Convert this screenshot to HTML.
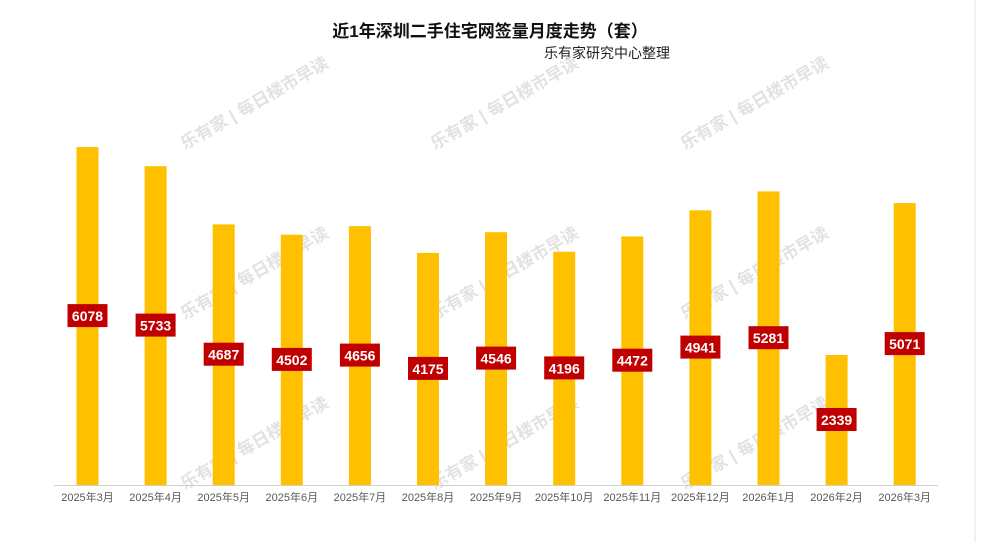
<!DOCTYPE html><html><head><meta charset="utf-8"><style>body{margin:0;background:#fff}</style></head><body>
<svg width="981" height="542" xmlns="http://www.w3.org/2000/svg" style="display:block;font-family:'Liberation Sans','Noto Sans CJK SC',sans-serif">
<rect width="981" height="542" fill="#fff"/>
<line x1="975" y1="0" x2="975" y2="542" stroke="#e4e4e4"/>
<text x="490" y="37" text-anchor="middle" font-size="17" font-weight="bold" fill="#111">近1年深圳二手住宅网签量月度走势（套）</text>
<text x="607" y="58" text-anchor="middle" font-size="14" fill="#222">乐有家研究中心整理</text>
<g fill="#e2e2e2" font-size="17" font-weight="bold">
<text transform="translate(185,150) rotate(-30)">乐有家 | 每日楼市早读</text>
<text transform="translate(435,150) rotate(-30)">乐有家 | 每日楼市早读</text>
<text transform="translate(685,150) rotate(-30)">乐有家 | 每日楼市早读</text>
<text transform="translate(185,320) rotate(-30)">乐有家 | 每日楼市早读</text>
<text transform="translate(435,320) rotate(-30)">乐有家 | 每日楼市早读</text>
<text transform="translate(685,320) rotate(-30)">乐有家 | 每日楼市早读</text>
<text transform="translate(185,490) rotate(-30)">乐有家 | 每日楼市早读</text>
<text transform="translate(435,490) rotate(-30)">乐有家 | 每日楼市早读</text>
<text transform="translate(685,490) rotate(-30)">乐有家 | 每日楼市早读</text>
</g>
<line x1="54" y1="485.5" x2="938" y2="485.5" stroke="#d0d0d0"/>
<g fill="#FFC000">
<rect x="76.5" y="147.1" width="22" height="337.9"/>
<rect x="144.6" y="166.2" width="22" height="318.8"/>
<rect x="212.7" y="224.4" width="22" height="260.6"/>
<rect x="280.8" y="234.7" width="22" height="250.3"/>
<rect x="348.9" y="226.1" width="22" height="258.9"/>
<rect x="417" y="252.9" width="22" height="232.1"/>
<rect x="485.1" y="232.2" width="22" height="252.8"/>
<rect x="553.2" y="251.7" width="22" height="233.3"/>
<rect x="621.3" y="236.4" width="22" height="248.6"/>
<rect x="689.4" y="210.3" width="22" height="274.7"/>
<rect x="757.5" y="191.4" width="22" height="293.6"/>
<rect x="825.6" y="355" width="22" height="130"/>
<rect x="893.7" y="203.1" width="22" height="281.9"/>
</g>
<g fill="#C00000">
<rect x="67.5" y="304.1" width="40" height="23"/>
<rect x="135.6" y="313.6" width="40" height="23"/>
<rect x="203.7" y="342.7" width="40" height="23"/>
<rect x="271.8" y="347.9" width="40" height="23"/>
<rect x="339.9" y="343.6" width="40" height="23"/>
<rect x="408" y="356.9" width="40" height="23"/>
<rect x="476.1" y="346.6" width="40" height="23"/>
<rect x="544.2" y="356.4" width="40" height="23"/>
<rect x="612.3" y="348.7" width="40" height="23"/>
<rect x="680.4" y="335.6" width="40" height="23"/>
<rect x="748.5" y="326.2" width="40" height="23"/>
<rect x="816.6" y="408" width="40" height="23"/>
<rect x="884.7" y="332.1" width="40" height="23"/>
</g>
<g fill="#fff" font-size="14" font-weight="bold" text-anchor="middle">
<text x="87.5" y="321.1">6078</text>
<text x="155.6" y="330.6">5733</text>
<text x="223.7" y="359.7">4687</text>
<text x="291.8" y="364.9">4502</text>
<text x="359.9" y="360.6">4656</text>
<text x="428" y="373.9">4175</text>
<text x="496.1" y="363.6">4546</text>
<text x="564.2" y="373.4">4196</text>
<text x="632.3" y="365.7">4472</text>
<text x="700.4" y="352.6">4941</text>
<text x="768.5" y="343.2">5281</text>
<text x="836.6" y="425">2339</text>
<text x="904.7" y="349.1">5071</text>
</g>
<g fill="#595959" font-size="11" text-anchor="middle">
<text x="87.5" y="501">2025年3月</text>
<text x="155.6" y="501">2025年4月</text>
<text x="223.7" y="501">2025年5月</text>
<text x="291.8" y="501">2025年6月</text>
<text x="359.9" y="501">2025年7月</text>
<text x="428" y="501">2025年8月</text>
<text x="496.1" y="501">2025年9月</text>
<text x="564.2" y="501">2025年10月</text>
<text x="632.3" y="501">2025年11月</text>
<text x="700.4" y="501">2025年12月</text>
<text x="768.5" y="501">2026年1月</text>
<text x="836.6" y="501">2026年2月</text>
<text x="904.7" y="501">2026年3月</text>
</g>
</svg></body></html>
